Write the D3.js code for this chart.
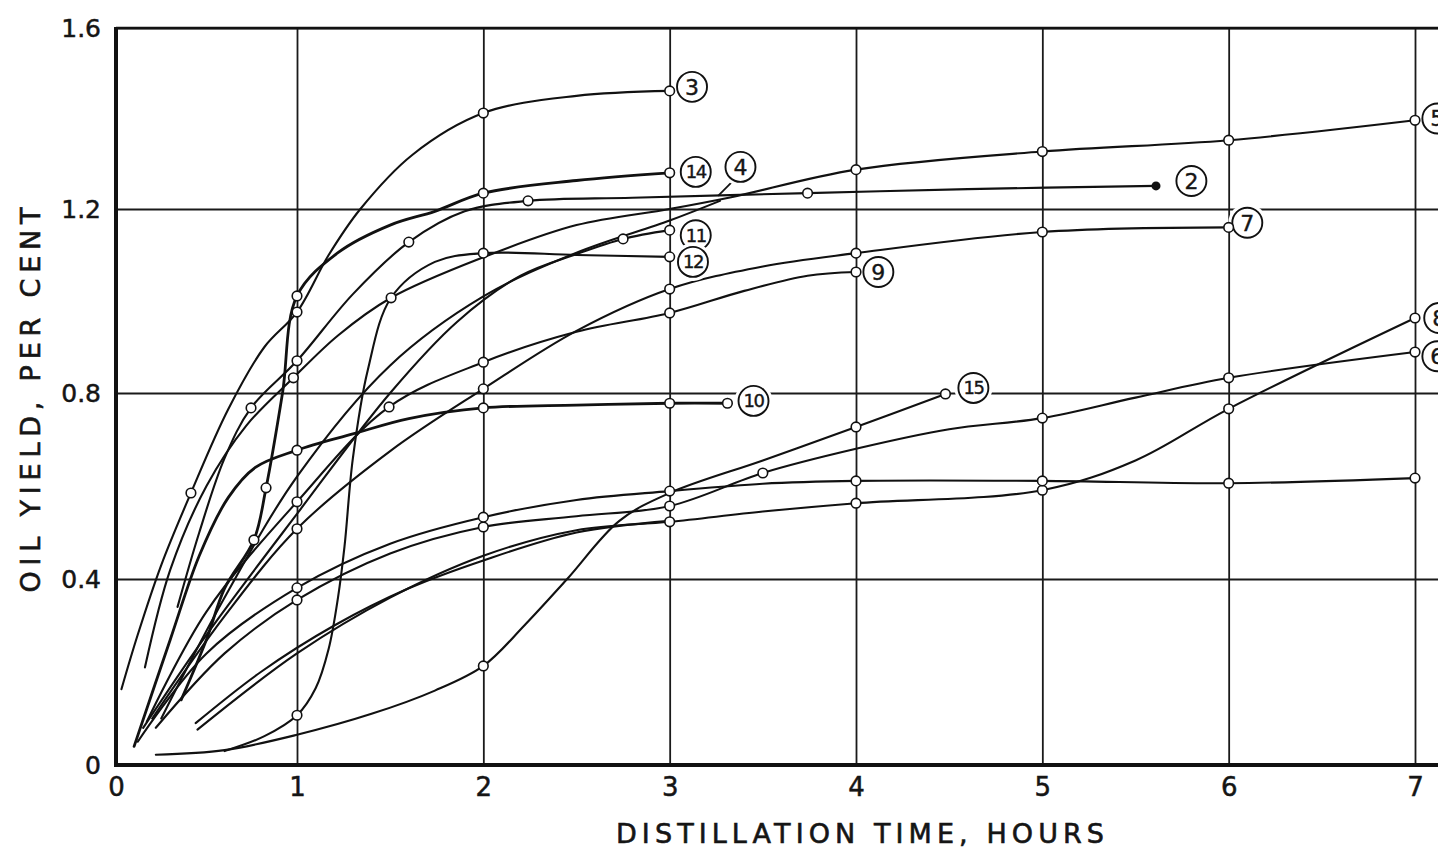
<!DOCTYPE html>
<html>
<head>
<meta charset="utf-8">
<script src="https://cdn.jsdelivr.net/npm/d3@7"></script>
<style>
  body { margin: 0; background: #fff; }
  text { font-family: "DejaVu Sans", sans-serif; fill: #151515; }
</style>
</head>
<body>
<div id="chart"></div>
<script>
// chart size
var svgWidth = 1438;
var svgHeight = 850;

// tick values and labels
var xTicks = [0, 1, 2, 3, 4, 5, 6, 7];
var yTicks = [0, 0.4, 0.8, 1.2, 1.6];
var yTickLabels = ["0", "0.4", "0.8", "1.2", "1.6"];

// each curve: [hours, oil yield %]
var curve1 = [[0.44,0.09],[0.8,0.2],[1.2,0.3],[1.6,0.38],[2.0,0.44],[2.5,0.5],[3.0,0.525]];
var curve2 = [[0.34,0.34],[0.46,0.5],[0.6,0.66],[0.746,0.768],[1.0,0.87],[1.3,1.015],[1.6,1.128],[1.9,1.195],[2.24,1.218],[2.8,1.225],[3.74,1.235],[4.6,1.244],[5.61,1.251]];
var curve3 = [[0.03,0.163],[0.12,0.28],[0.25,0.43],[0.414,0.585],[0.62,0.765],[0.82,0.9],[1.0,0.976],[1.17,1.1],[1.34,1.2],[1.62,1.32],[2.0,1.412],[2.5,1.45],[3.0,1.461]];
var curve4 = [[0.25,0.1],[0.6,0.36],[1.0,0.62],[1.5,0.86],[2.0,1.01],[2.5,1.105],[3.0,1.175],[3.27,1.218]];
var curve5 = [[0.16,0.21],[0.3,0.42],[0.5,0.6],[0.72,0.73],[0.98,0.833],[1.22,0.925],[1.505,1.007],[2.0,1.095],[2.5,1.165],[3.0,1.2],[3.33,1.226],[4.0,1.287],[5.0,1.327],[6.0,1.352],[7,1.396]];
var curve6 = [[0.22,0.08],[0.6,0.24],[1.0,0.355],[1.5,0.455],[2.0,0.512],[2.5,0.535],[3.0,0.557],[3.5,0.628],[4.0,0.68],[4.5,0.722],[5.0,0.746],[5.5,0.79],[6.0,0.833],[7,0.889]];
var curve7 = [[0.2,0.1],[0.6,0.32],[1.0,0.508],[1.5,0.675],[2.0,0.809],[2.5,0.935],[3.0,1.026],[3.5,1.075],[4.0,1.104],[5.0,1.15],[6.0,1.16]];
var curve8 = [[0.45,0.076],[1.0,0.24],[1.5,0.36],[2.0,0.45],[2.5,0.505],[3.0,0.523],[3.5,0.545],[4.0,0.563],[5.0,0.591],[5.5,0.655],[6.0,0.766],[7,0.963]];
var curve9 = [[0.17,0.093],[0.5,0.33],[1.0,0.566],[1.494,0.77],[2.0,0.867],[2.5,0.933],[3.0,0.974],[3.4,1.022],[3.74,1.055],[4.0,1.063]];
var curve10 = [[0.1,0.04],[0.3,0.27],[0.46,0.45],[0.62,0.575],[0.77,0.64],[1.0,0.677],[1.3,0.712],[1.6,0.745],[2.0,0.768],[2.5,0.774],[3.0,0.778],[3.31,0.778]];
var curve11 = [[0.15,0.08],[0.5,0.28],[1.0,0.54],[1.5,0.8],[1.86,0.955],[2.2,1.055],[2.5,1.102],[2.75,1.135],[3.0,1.154]];
var curve12 = [[0.6,0.03],[0.82,0.062],[1.0,0.107],[1.1,0.165],[1.17,0.25],[1.22,0.36],[1.255,0.47],[1.3,0.66],[1.38,0.85],[1.505,1.007],[1.74,1.085],[2.0,1.104],[2.5,1.1],[3.0,1.096]];
var curve13 = [[0.12,0.05],[0.5,0.24],[1.0,0.381],[1.5,0.476],[2.0,0.533],[2.5,0.57],[3.0,0.589],[3.5,0.605],[4.0,0.611],[5.0,0.611],[6.0,0.606],[7,0.617]];
var curve14 = [[0.36,0.14],[0.5,0.27],[0.6,0.38],[0.762,0.484],[0.829,0.596],[0.92,0.8],[1.0,1.011],[1.22,1.105],[1.5,1.165],[1.74,1.195],[2.0,1.235],[2.5,1.263],[3.0,1.28]];
var curve15 = [[0.22,0.022],[0.6,0.032],[1.0,0.065],[1.4,0.11],[1.74,0.16],[2.0,0.213],[2.22,0.3],[2.45,0.4],[2.73,0.525],[3.0,0.585],[3.5,0.655],[4.0,0.727],[4.48,0.798]];

// measured points (open circles) on each curve
var points1 = [];
var points2 = [[0.746,0.768],[1.0,0.87],[1.6,1.128],[2.24,1.218],[3.74,1.235]];
var points3 = [[0.414,0.585],[1.0,0.976],[2.0,1.412],[3.0,1.461]];
var points4 = [];
var points5 = [[0.98,0.833],[4.0,1.287],[5.0,1.327],[6.0,1.352],[7,1.396]];
var points6 = [[1.0,0.355],[2.0,0.512],[3.0,0.557],[3.5,0.628],[5.0,0.746],[6.0,0.833],[7,0.889]];
var points7 = [[1.0,0.508],[2.0,0.809],[3.0,1.026],[4.0,1.104],[5.0,1.15],[6.0,1.16]];
var points8 = [[3.0,0.523],[4.0,0.563],[5.0,0.591],[6.0,0.766],[7,0.963]];
var points9 = [[1.0,0.566],[1.494,0.77],[2.0,0.867],[3.0,0.974],[4.0,1.063]];
var points10 = [[1.0,0.677],[2.0,0.768],[3.0,0.778],[3.31,0.778]];
var points11 = [[2.75,1.135],[3.0,1.154]];
var points12 = [[1.0,0.107],[1.505,1.007],[2.0,1.104],[3.0,1.096]];
var points13 = [[1.0,0.381],[2.0,0.533],[3.0,0.589],[4.0,0.611],[5.0,0.611],[6.0,0.606],[7,0.617]];
var points14 = [[0.762,0.484],[0.829,0.596],[1.0,1.011],[2.0,1.235],[3.0,1.28]];
var points15 = [[2.0,0.213],[4.0,0.727],[4.48,0.798]];

// last point of curve 2 is drawn as a solid dot
var solidPoints = [[5.61,1.251]];

// curve numbers
var curveIds = [1, 2, 3, 4, 5, 6, 7, 8, 9, 10, 11, 12, 13, 14, 15];

var curves = [curve1, curve2, curve3, curve4, curve5, curve6, curve7, curve8,
              curve9, curve10, curve11, curve12, curve13, curve14, curve15];
var points = [points1, points2, points3, points4, points5, points6, points7, points8,
              points9, points10, points11, points12, points13, points14, points15];

// where the circled numbers sit (in chart units)
var labelAt = {
    2: [5.80, 1.262], 3: [3.12, 1.47], 4: [3.38, 1.293], 5: [7.12, 1.40],
    6: [7.12, 0.880], 7: [6.10, 1.17], 8: [7.13, 0.963], 9: [4.12, 1.063],
    10: [3.45, 0.783], 11: [3.14, 1.143], 12: [3.125, 1.085], 14: [3.14, 1.282],
    15: [4.63, 0.811]
};
// leader from label 4 down to its curve
var leader4 = [[3.34, 1.262], [3.26, 1.229]];

var svg = d3.select("#chart")
    .append("svg")
    .attr("width", svgWidth)
    .attr("height", svgHeight);

svg.append("rect")
    .attr("width", svgWidth)
    .attr("height", svgHeight)
    .attr("fill", "#fff");

// the printed grid is not perfectly even, so the scales are piecewise
var xScale = d3.scaleLinear().domain([0, 1, 7]).range([116, 297, 1415]);
var yScale = d3.scaleLinear().domain([0, 0.4, 0.8, 1.2, 1.6]).range([765, 579, 393, 209, 28]);

var plotLeft = xScale(0), plotTop = yScale(1.6), plotBottom = yScale(0);

// vertical grid + x tick labels
var xAxis = d3.axisBottom(xScale)
    .tickValues(xTicks)
    .tickSize(-(plotBottom - plotTop))
    .tickPadding(13)
    .tickFormat(d3.format("d"));

var gx = svg.append("g")
    .attr("transform", `translate(0, ${plotBottom})`)
    .call(xAxis);
gx.select(".domain").remove();
gx.selectAll(".tick line").attr("stroke", "#1a1a1a").attr("stroke-width", 1.8);
gx.selectAll(".tick text")
    .attr("font-size", 26)
    .attr("font-family", "DejaVu Sans, sans-serif")
    .attr("fill", "#151515")
    .attr("stroke", "#151515")
    .attr("stroke-width", 0.5);

// horizontal grid + y tick labels
var yAxis = d3.axisLeft(yScale)
    .tickValues(yTicks)
    .tickSize(-(svgWidth - plotLeft + 40))
    .tickPadding(15)
    .tickFormat((d, i) => yTickLabels[i]);

var gy = svg.append("g")
    .attr("transform", `translate(${plotLeft}, 0)`)
    .call(yAxis);
gy.select(".domain").remove();
gy.selectAll(".tick line").attr("stroke", "#1a1a1a").attr("stroke-width", 1.8);
gy.selectAll(".tick text")
    .attr("font-size", 25)
    .attr("font-family", "DejaVu Sans, sans-serif")
    .attr("fill", "#151515")
    .attr("stroke", "#151515")
    .attr("stroke-width", 0.5);

// heavy frame lines
svg.append("line")
    .attr("x1", plotLeft).attr("x2", plotLeft)
    .attr("y1", plotTop - 1).attr("y2", plotBottom + 2)
    .attr("stroke", "#111").attr("stroke-width", 4);
svg.append("line")
    .attr("x1", plotLeft - 2).attr("x2", svgWidth)
    .attr("y1", plotBottom).attr("y2", plotBottom)
    .attr("stroke", "#111").attr("stroke-width", 4);
svg.append("line")
    .attr("x1", plotLeft).attr("x2", svgWidth)
    .attr("y1", plotTop).attr("y2", plotTop)
    .attr("stroke", "#111").attr("stroke-width", 2.6);

// curves
var line = d3.line()
    .x(d => xScale(d[0]))
    .y(d => yScale(d[1]))
    .curve(d3.curveCatmullRom.alpha(0.5));

svg.append("g")
    .selectAll("path")
    .data(curves)
    .enter()
    .append("path")
    .attr("d", line)
    .attr("fill", "none")
    .attr("stroke", "#111")
    .attr("stroke-width", (d, i) => (curveIds[i] == 10 || curveIds[i] == 14) ? 2.8 : 2.1)
    .attr("stroke-linecap", "round");

// leader for label 4
svg.append("line")
    .attr("x1", xScale(leader4[0][0])).attr("y1", yScale(leader4[0][1]))
    .attr("x2", xScale(leader4[1][0])).attr("y2", yScale(leader4[1][1]))
    .attr("stroke", "#111").attr("stroke-width", 1.8);

// circled curve numbers
var labelIds = curveIds.filter(id => labelAt[id]);
var labels = svg.append("g")
    .selectAll("g")
    .data(labelIds)
    .enter()
    .append("g")
    .attr("transform", id => `translate(${xScale(labelAt[id][0])}, ${yScale(labelAt[id][1])})`);

labels.append("circle")
    .attr("r", 19)
    .attr("fill", "#fff");
labels.append("circle")
    .attr("r", 15)
    .attr("fill", "#fff")
    .attr("stroke", "#111")
    .attr("stroke-width", 1.9);
labels.append("text")
    .attr("text-anchor", "middle")
    .attr("dy", "0.36em")
    .attr("font-size", id => id > 9 ? 18 : 22)
    .attr("letter-spacing", id => id > 9 ? -1.5 : 0)
    .attr("stroke", "#151515")
    .attr("stroke-width", 0.4)
    .text(id => id);

// open circles for the measured points
var allPoints = [];
points.forEach(p => p.forEach(d => allPoints.push(d)));

svg.append("g")
    .selectAll("circle")
    .data(allPoints)
    .enter()
    .append("circle")
    .attr("cx", d => xScale(d[0]))
    .attr("cy", d => yScale(d[1]))
    .attr("r", 4.8)
    .attr("fill", "#fff")
    .attr("stroke", "#111")
    .attr("stroke-width", 1.6);

svg.append("g")
    .selectAll("circle")
    .data(solidPoints)
    .enter()
    .append("circle")
    .attr("cx", d => xScale(d[0]))
    .attr("cy", d => yScale(d[1]))
    .attr("r", 4.5)
    .attr("fill", "#111");

// axis titles
svg.append("text")
    .attr("x", 860)
    .attr("y", 843)
    .attr("text-anchor", "middle")
    .attr("font-size", 27)
    .attr("textLength", 488)
    .attr("lengthAdjust", "spacing")
    .attr("stroke", "#151515")
    .attr("stroke-width", 0.6)
    .text("DISTILLATION TIME, HOURS");

svg.append("text")
    .attr("transform", "translate(40, 400) rotate(-90)")
    .attr("text-anchor", "middle")
    .attr("font-size", 27)
    .attr("textLength", 385)
    .attr("lengthAdjust", "spacing")
    .attr("stroke", "#151515")
    .attr("stroke-width", 0.6)
    .text("OIL YIELD, PER CENT");
</script>
</body>
</html>
